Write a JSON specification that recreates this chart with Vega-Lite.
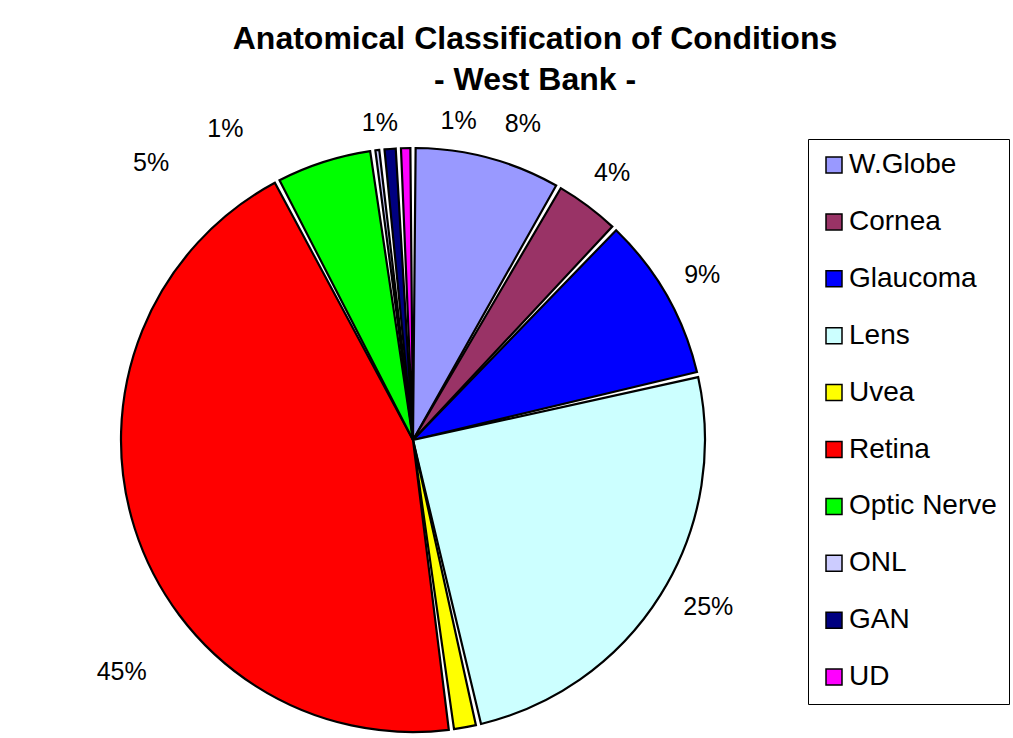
{
  "$schema": "https://vega.github.io/schema/vega-lite/v6.json",
  "width": 808,
  "height": 596,
  "autosize": {"type": "none"},
  "padding": {"left": 9, "top": 142, "right": 196, "bottom": 0},
  "background": "white",
  "title": {
    "text": ["Anatomical Classification of Conditions", "- West Bank -"],
    "font": "Liberation Sans",
    "fontSize": 32,
    "fontWeight": "bold",
    "color": "black",
    "anchor": "middle",
    "dx": 122,
    "lineHeight": 41,
    "offset": -12
  },
  "data": {
    "values": [
      {"cat": "W.Globe", "value": 8.3, "label": "8%", "idx": 1},
      {"cat": "Cornea", "value": 3.8, "label": "4%", "idx": 2},
      {"cat": "Glaucoma", "value": 9.3, "label": "9%", "idx": 3},
      {"cat": "Lens", "value": 25.0, "label": "25%", "idx": 4},
      {"cat": "Uvea", "value": 1.5, "label": "", "idx": 5},
      {"cat": "Retina", "value": 44.4, "label": "45%", "idx": 6},
      {"cat": "Optic Nerve", "value": 5.5, "label": "5%", "idx": 7},
      {"cat": "ONL", "value": 0.5, "label": "1%", "idx": 8},
      {"cat": "GAN", "value": 0.9, "label": "1%", "idx": 9},
      {"cat": "UD", "value": 0.8, "label": "1%", "idx": 10}
    ]
  },
  "encoding": {
    "theta": {"field": "value", "type": "quantitative", "stack": true},
    "order": {"field": "idx", "type": "quantitative"}
  },
  "layer": [
    {
      "mark": {"type": "arc", "radius": 292, "stroke": "black", "strokeWidth": 2.2, "padAngle": 0.018},
      "encoding": {
        "color": {
          "field": "cat",
          "type": "nominal",
          "scale": {
            "domain": ["W.Globe", "Cornea", "Glaucoma", "Lens", "Uvea", "Retina", "Optic Nerve", "ONL", "GAN", "UD"],
            "range": ["#9999FF", "#993366", "#0000FF", "#CCFFFF", "#FFFF00", "#FF0000", "#00FF00", "#CCCCFF", "#000080", "#FF00FF"]
          },
          "legend": {
            "orient": "none",
            "legendX": 799,
            "legendY": -3,
            "title": null,
            "strokeColor": "black",
            "fillColor": "white",
            "padding": 12,
            "symbolType": "square",
            "symbolSize": 256,
            "symbolStrokeColor": "black",
            "symbolStrokeWidth": 1.5,
            "symbolOpacity": 1,
            "labelFont": "Liberation Sans",
            "labelFontSize": 28,
            "labelColor": "black",
            "labelOffset": 1,
            "rowPadding": 28.9,
            "labelLimit": 300
          }
        }
      }
    },
    {
      "mark": {"type": "text", "radius": 333, "font": "Liberation Sans", "fontSize": 25, "color": "black"},
      "encoding": {"text": {"condition": {"test": "datum.cat === 'Cornea' || datum.cat === 'Glaucoma'", "field": "label"}, "value": ""}}
    },
    {
      "mark": {"type": "text", "radius": 333, "font": "Liberation Sans", "fontSize": 25, "color": "black", "dx": 24, "dy": 6},
      "encoding": {"text": {"condition": {"test": "datum.cat === 'W.Globe'", "field": "label"}, "value": ""}}
    },
    {
      "mark": {"type": "text", "radius": 333, "font": "Liberation Sans", "fontSize": 25, "color": "black", "dx": 13, "dy": -10},
      "encoding": {"text": {"condition": {"test": "datum.cat === 'Lens'", "field": "label"}, "value": ""}}
    },
    {
      "mark": {"type": "text", "radius": 333, "font": "Liberation Sans", "fontSize": 25, "color": "black", "dx": 26, "dy": 131},
      "encoding": {"text": {"condition": {"test": "datum.cat === 'Retina'", "field": "label"}, "value": ""}}
    },
    {
      "mark": {"type": "text", "radius": 333, "font": "Liberation Sans", "fontSize": 25, "color": "black", "dx": -160, "dy": 40},
      "encoding": {"text": {"condition": {"test": "datum.cat === 'Optic Nerve'", "field": "label"}, "value": ""}}
    },
    {
      "mark": {"type": "text", "radius": 333, "font": "Liberation Sans", "fontSize": 25, "color": "black", "dx": -147, "dy": 20},
      "encoding": {"text": {"condition": {"test": "datum.cat === 'ONL'", "field": "label"}, "value": ""}}
    },
    {
      "mark": {"type": "text", "radius": 333, "font": "Liberation Sans", "fontSize": 25, "color": "black", "dx": -7, "dy": 15},
      "encoding": {"text": {"condition": {"test": "datum.cat === 'GAN'", "field": "label"}, "value": ""}}
    },
    {
      "mark": {"type": "text", "radius": 333, "font": "Liberation Sans", "fontSize": 25, "color": "black", "dx": 54, "dy": 14},
      "encoding": {"text": {"condition": {"test": "datum.cat === 'UD'", "field": "label"}, "value": ""}}
    }
  ],
  "config": {"view": {"stroke": null}}
}
